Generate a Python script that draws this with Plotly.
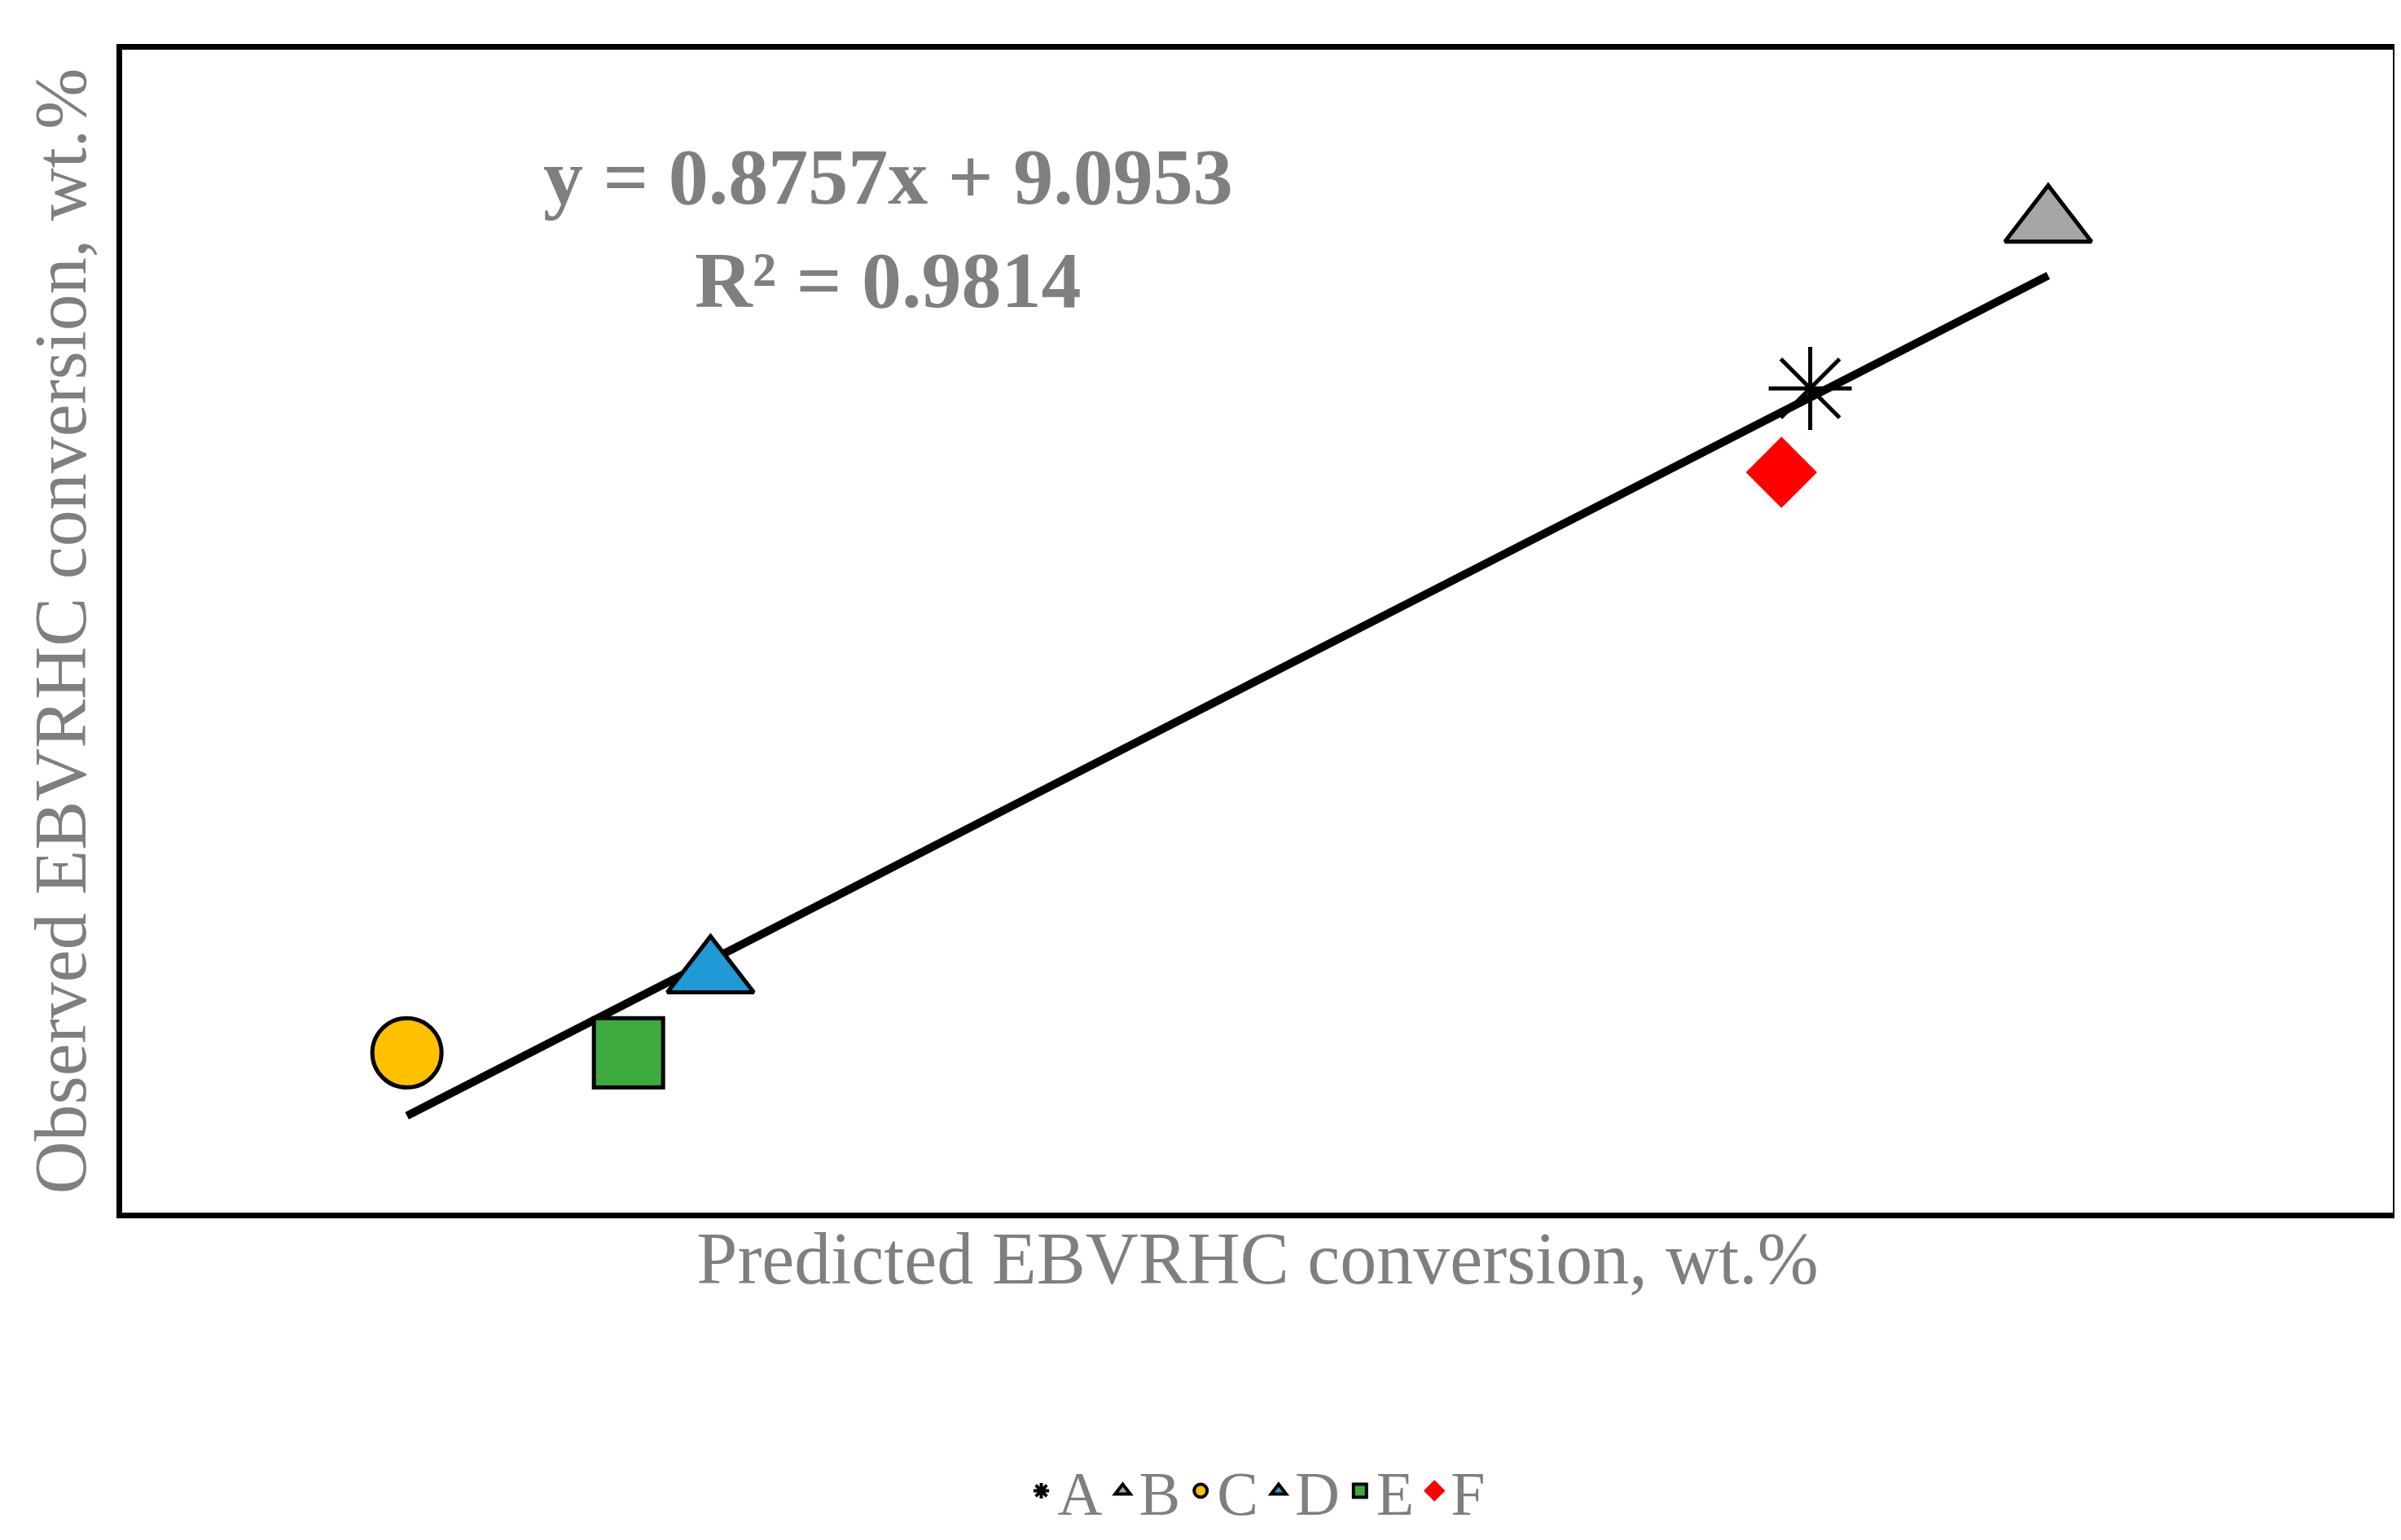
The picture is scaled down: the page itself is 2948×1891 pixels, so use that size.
import plotly.graph_objects as go

# (axes have no tick labels; scale inferred from trendline equation)
names = ["A", "B", "C", "D", "E", "F"]
predicted = [77.1, 80.0, 60.0, 63.7, 62.7, 76.75]
observed = [76.8, 80.25, 62.95, 64.6, 62.95, 75.05]
slope, intercept = 0.8757, 9.0953

styles = {
    "A": dict(symbol="asterisk-open", color="black", size=85, line=dict(color="black", width=5)),
    "B": dict(symbol="triangle-up", color="#a6a6a6", size=92, line=dict(color="black", width=5)),
    "C": dict(symbol="circle", color="#ffc000", size=85, line=dict(color="black", width=5)),
    "D": dict(symbol="triangle-up", color="#1f9ad6", size=92, line=dict(color="black", width=5)),
    "E": dict(symbol="square", color="#3daa3d", size=85, line=dict(color="black", width=5)),
    "F": dict(symbol="diamond", color="#ff0000", size=65, line=dict(color="#ff0000", width=2)),
}

fig = go.Figure()
xs = [min(predicted), max(predicted)]
fig.add_trace(go.Scatter(x=xs, y=[slope * v + intercept for v in xs], mode="lines",
                         line=dict(color="black", width=10), showlegend=False))
for n, x, y in zip(names, predicted, observed):
    fig.add_trace(go.Scatter(x=[x], y=[y], mode="markers", name=n, marker=styles[n],
                             showlegend=False))
# legend-only entries with smaller markers
for n in names:
    m = dict(styles[n])
    m["size"] = 40
    m["line"] = dict(m["line"], width=4)
    fig.add_trace(go.Scatter(x=[None], y=[None], mode="markers", name=n, marker=m))

fig.add_annotation(x=0.3375, y=0.93, xref="paper", yref="paper", showarrow=False,
                   text="<b>y = 0.8757x + 9.0953<br>R² = 0.9814</b>",
                   font=dict(family="Liberation Serif", size=98, color="#7f7f7f"))

axis = dict(showgrid=False, zeroline=False, showticklabels=False, ticks="",
            showline=True, mirror=True, linecolor="black", linewidth=7)
fig.update_xaxes(axis, range=[56.53, 84.2],
                 title=dict(text="Predicted EBVRHC conversion, wt.%", standoff=20,
                            font=dict(family="Liberation Serif", size=90, color="#7f7f7f")))
fig.update_yaxes(axis, range=[59.62, 83.86],
                 title=dict(text="Observed EBVRHC conversion, wt.%", standoff=10,
                            font=dict(family="Liberation Serif", size=90, color="#7f7f7f")))
fig.update_layout(width=2948, height=1891, plot_bgcolor="white", paper_bgcolor="white",
                  margin=dict(l=142, r=18, t=53, b=360),
                  legend=dict(orientation="h", x=0.5, xanchor="center", y=-0.2, yanchor="top",
                              font=dict(family="Liberation Serif", size=76, color="#7f7f7f"),
                              itemsizing="trace"))
fig.write_html("out.html")
